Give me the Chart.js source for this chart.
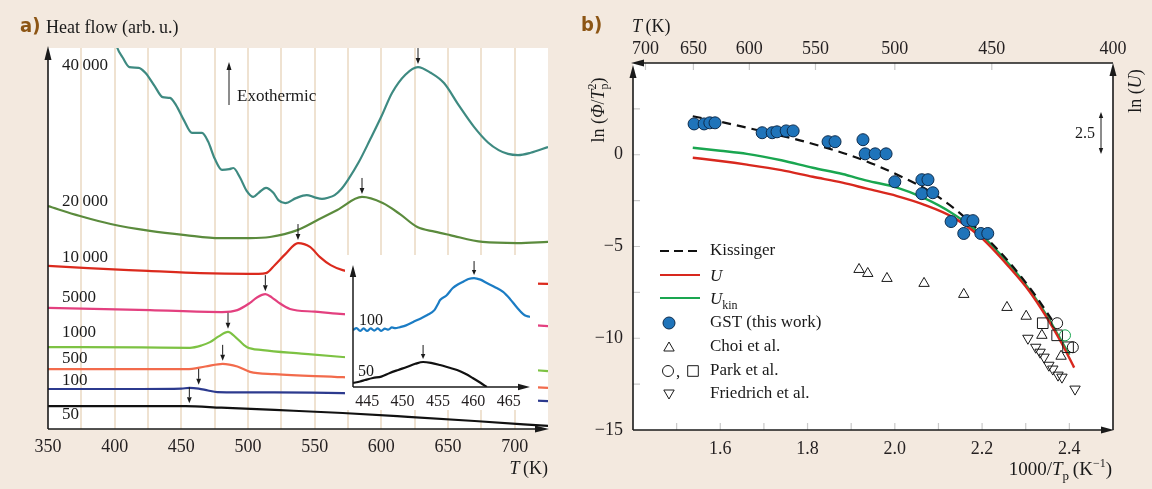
<!DOCTYPE html>
<html>
<head>
<meta charset="utf-8">
<title>GST crystallization kinetics</title>
<script src="https://cdn.jsdelivr.net/npm/chart.js@4.4.1/dist/chart.umd.min.js"></script>
<style>
  html, body { margin: 0; padding: 0; background: #f3e9df; }
  #page { position: relative; width: 1152px; height: 489px; overflow: hidden; }
  canvas { position: absolute; }
  #chartA { left: 0; top: 0; }
  #inset { left: 345px; top: 255px; background: #fff; }
  #chartB { left: 575px; top: 0; }
</style>
</head>
<body>
<div id="page">
  <canvas id="chartA" width="570" height="489"></canvas>
  <canvas id="inset" width="193" height="155"></canvas>
  <canvas id="chartB" width="577" height="489"></canvas>
</div>
<script>
const SERIF = '"Liberation Serif", "Times New Roman", serif';
Chart.defaults.font.family = SERIF;
Chart.defaults.color = '#231f20';

// ---- panel a: DSC traces, T (K) vs heat flow (arb. u.), one per heating rate (K/min)
const RATES = ['40\u2009000', '20\u2009000', '10\u2009000', '5000', '1000', '500', '100', '50'];
const T_40000 = [399, 402, 406, 411, 418, 423, 430, 436, 441.5, 446, 452, 458, 465.5, 470, 475, 480.5, 486, 489, 494, 499, 504, 508, 513.5, 519, 523, 528, 536, 544, 550, 555.5, 560, 565, 570, 575, 583, 591.5, 600, 608, 618, 627.5, 637, 647, 658, 669.5, 680, 688, 695, 702.5, 712, 725];
const HF_40000 = [104, 100, 97.5, 95.0, 94.8, 93.5, 90, 87.1, 86.9, 85, 81, 77.7, 77.7, 75.5, 71, 68.0, 68.2, 68.5, 66, 62.5, 60.9, 62, 63.3, 62, 60, 59.3, 60.6, 61.4, 60.8, 60.4, 60.7, 61.4, 63, 65.4, 70, 75.9, 82, 88.2, 93, 95.0, 93.5, 90.8, 85, 79.3, 75.2, 73.2, 72.2, 71.9, 72.5, 74.0];
const T_20000 = [350, 374, 397, 426.5, 453, 479, 501.5, 516.5, 537, 552.5, 567, 585.5, 601, 614, 627, 640, 651.5, 676, 702, 725];
const HF_20000 = [58.5, 55.9, 53.8, 52.0, 50.9, 50.1, 50.1, 50.4, 52.2, 54.9, 57.5, 60.9, 59.3, 56.4, 53.0, 51.8, 50.9, 49.1, 48.8, 49.1];
const T_10000 = [350, 380, 425, 464, 500, 508, 513.5, 520, 528, 537.5, 546.5, 554, 562, 571, 590, 614, 640, 666, 695, 725];
const HF_10000 = [42.8, 42.2, 41.5, 40.9, 40.7, 40.7, 40.9, 43.0, 45.9, 48.8, 47.8, 45.1, 43.0, 41.7, 40.5, 39.6, 39.1, 38.6, 38.3, 38.1];
const T_5000 = [350, 426.5, 480.5, 492, 501.5, 507, 513, 518, 522.5, 531.5, 550, 569, 610, 651.5, 690, 725];
const HF_5000 = [31.8, 31.2, 30.7, 31.2, 33.1, 34.6, 35.4, 34.5, 33.3, 31.5, 30.8, 30.2, 29.4, 28.6, 27.8, 27.0];
const T_1000 = [350, 420, 456.5, 465, 471.5, 478, 485, 491, 499, 511, 540, 571, 610, 651.5, 690, 725];
const HF_1000 = [21.5, 21.4, 21.3, 21.9, 22.8, 24.3, 25.5, 24.0, 21.5, 20.7, 19.8, 18.9, 18.0, 17.1, 16.1, 15.2];
const T_500 = [350, 420, 454, 468, 481, 492, 501.5, 520, 571, 610, 651.5, 690, 725];
const HF_500 = [15.7, 15.7, 15.7, 16.4, 17.1, 16.4, 15.0, 14.4, 13.6, 12.8, 12.1, 11.4, 10.8];
const T_100 = [350, 420, 450, 456, 463, 470, 477, 520, 571, 650, 725];
const HF_100 = [10.5, 10.5, 10.6, 10.8, 10.6, 10.1, 9.7, 9.6, 9.4, 8.4, 7.3];
const T_50 = [350, 420, 453, 480, 520, 571, 620, 670, 725];
const HF_50 = [6.0, 6.0, 6.0, 5.6, 5.0, 4.2, 3.2, 2.1, 0.8];
const PEAK_T = [627.5, 585.5, 537.5, 513, 485, 481, 463, 456];
const PEAK_HF = [95.0, 60.9, 48.8, 35.4, 25.5, 17.1, 10.8, 6.0];
const LABEL_HF = [95.5, 59.6, 45.1, 34.4, 25.2, 18.4, 12.6, 3.7];

// inset: slow heating rates, zoomed
const T_IN_100 = [443, 443.5, 444, 444.5, 445, 445.5, 446, 446.5, 447, 447.5, 448, 448.5, 449, 449.6, 450.5, 451.5, 452.5, 453.5, 454.5, 455, 455.3, 456.2, 457.1, 457.8, 458.5, 459.3, 460.1, 461, 461.9, 463, 464.2, 465.2, 466.1, 467, 467.5, 468.2];
const HF_IN_100 = [46.7, 48.2, 46.0, 48.0, 46.0, 48.0, 46.2, 48.0, 46.0, 47.8, 47.0, 48.8, 48.2, 49.0, 50.5, 53.3, 56, 59.0, 63, 68, 71.3, 75, 81.1, 84, 86.1, 88.5, 89.3, 88, 85.2, 82, 77.9, 72, 65.6, 60, 58.2, 57.4];
const T_IN_50 = [443, 444, 444.7, 445.8, 447, 448.2, 449.4, 450.6, 451.8, 452.9, 454, 455.3, 456.5, 457.7, 458.8, 459.9, 461, 461.9];
const HF_IN_50 = [3.3, 4.5, 5.7, 7.4, 8.5, 11.5, 14, 16.4, 19, 20.5, 19.8, 18.0, 16, 13.9, 11, 7.4, 3.5, 0];
const IN_TICKS = [445, 450, 455, 460, 465];
const IN_PEAK_T = [460.1, 452.9];
const IN_PEAK_HF = [89.3, 20.5];

// ---- panel b: Kissinger plot, 1000/Tp (1/K) vs ln(Phi/Tp^2)
const TOP_T = [700, 650, 600, 550, 500, 450, 400];
const GST_X = [1.540, 1.563, 1.576, 1.588, 1.696, 1.719, 1.730, 1.751, 1.767, 1.847, 1.863, 1.927, 1.932, 1.955, 1.980, 2.000, 2.062, 2.076, 2.062, 2.087, 2.129, 2.165, 2.179, 2.158, 2.197, 2.213];
const GST_Y = [1.68, 1.68, 1.74, 1.74, 1.20, 1.20, 1.25, 1.30, 1.30, 0.71, 0.71, 0.82, 0.05, 0.05, 0.05, -1.47, -1.36, -1.36, -2.12, -2.07, -3.64, -3.59, -3.59, -4.29, -4.29, -4.29];
const CHOI_X = [1.918, 1.938, 1.982, 2.067, 2.158, 2.257, 2.301, 2.337, 2.381];
const CHOI_Y = [-6.25, -6.47, -6.74, -7.01, -7.61, -8.32, -8.80, -9.84, -10.98];
const PARK_C_X = [2.372, 2.390, 2.408];
const PARK_C_Y = [-9.18, -9.84, -10.49];
const PARK_S_X = [2.339, 2.372, 2.397];
const PARK_S_Y = [-9.18, -9.84, -10.49];
const FRIED_X = [2.305, 2.323, 2.333, 2.342, 2.353, 2.362, 2.374, 2.383, 2.413];
const FRIED_Y = [-10.0, -10.49, -10.76, -11.03, -11.47, -11.68, -12.01, -12.12, -12.77];
const KISS_X = [1.537, 1.60, 1.66, 1.72, 1.78, 1.84, 1.90, 1.96, 2.02, 2.08, 2.14, 2.20, 2.26, 2.32, 2.36];
const KISS_Y = [2.10, 1.80, 1.48, 1.15, 0.80, 0.40, -0.05, -0.60, -1.25, -2.00, -3.00, -4.30, -5.80, -7.60, -9.00];
const U_X = [1.537, 1.60, 1.661, 1.74, 1.812, 1.88, 1.936, 2.005, 2.065, 2.133, 2.195, 2.265, 2.307, 2.349, 2.383, 2.411];
const U_Y = [-0.16, -0.34, -0.54, -0.84, -1.20, -1.52, -1.85, -2.25, -2.70, -3.40, -4.45, -6.2, -7.4, -8.9, -10.3, -11.6];
const UKIN_X = [1.537, 1.60, 1.661, 1.74, 1.812, 1.88, 1.936, 2.005, 2.065, 2.133, 2.195, 2.265, 2.307, 2.349, 2.383, 2.40];
const UKIN_Y = [0.38, 0.22, 0.05, -0.30, -0.71, -1.05, -1.41, -1.79, -2.34, -3.21, -4.30, -6.05, -7.3, -8.8, -10.2, -10.9];

const pts = (xs, ys) => xs.map((v, i) => ({ x: v, y: ys[i] }));

function arrow(ctx, x1, y1, x2, y2, head, half) {
  const ang = Math.atan2(y2 - y1, x2 - x1);
  const bx = x2 - head * Math.cos(ang), by = y2 - head * Math.sin(ang);
  ctx.beginPath(); ctx.moveTo(x1, y1); ctx.lineTo(bx, by); ctx.stroke();
  ctx.beginPath();
  ctx.moveTo(x2, y2);
  ctx.lineTo(bx + half * Math.sin(ang), by - half * Math.cos(ang));
  ctx.lineTo(bx - half * Math.sin(ang), by + half * Math.cos(ang));
  ctx.closePath(); ctx.fill();
}

// text made of pieces (italic, sub/superscripts); stack = draw next piece at same x
function rich(ctx, parts, x, y, align) {
  const setF = p => { ctx.font = (p.it ? 'italic ' : '') + p.size + 'px ' + SERIF; };
  let total = 0;
  parts.forEach(p => { setF(p); if (!p.stack) total += ctx.measureText(p.t).width; });
  let cx = align === 'right' ? x - total : align === 'center' ? x - total / 2 : x;
  ctx.textAlign = 'left'; ctx.textBaseline = 'alphabetic';
  parts.forEach(p => {
    setF(p);
    ctx.fillText(p.t, cx, y + (p.dy || 0));
    if (!p.stack) cx += ctx.measureText(p.t).width;
  });
}

const whiteArea = {
  id: 'whiteArea',
  beforeDraw(chart) {
    const { ctx, chartArea: a } = chart;
    ctx.save(); ctx.fillStyle = '#fff';
    ctx.fillRect(a.left, a.top, a.right - a.left, a.bottom - a.top);
    ctx.restore();
  }
};

// panel a decorations
const panelA = {
  id: 'panelA',
  afterDraw(chart) {
    const { ctx, chartArea: a, scales: { x, y } } = chart;
    ctx.save();
    ctx.strokeStyle = ctx.fillStyle = '#1a1a1a';
    ctx.lineWidth = 1.6;
    arrow(ctx, a.left, a.bottom, a.left, a.top - 2, 14, 3.5);
    arrow(ctx, a.left, a.bottom, a.right + 1, a.bottom, 14, 3.5);
    ctx.lineWidth = 1;
    PEAK_T.forEach((t, i) => {
      const px = x.getPixelForValue(t), py = y.getPixelForValue(PEAK_HF[i]) - 3;
      arrow(ctx, px, py - 16, px, py, 6, 2.4);
    });
    ctx.font = '17px ' + SERIF; ctx.textBaseline = 'middle'; ctx.textAlign = 'left';
    RATES.forEach((r, i) => ctx.fillText(r, a.left + 14, y.getPixelForValue(LABEL_HF[i])));
    // exothermic direction
    arrow(ctx, 229, 105, 229, 62, 8, 2.5);
    ctx.fillText('Exothermic', 237, 97);
    // title
    ctx.font = 'bold 20px "DejaVu Sans Condensed", "Liberation Sans", sans-serif';
    ctx.fillStyle = '#8c5514';
    ctx.fillText('a)', 20, 27);
    ctx.fillStyle = '#1a1a1a';
    ctx.font = '18px ' + SERIF;
    ctx.fillText('Heat flow (arb.\u2009u.)', 46, 28);
    rich(ctx, [{ t: 'T', it: true, size: 18 }, { t: '\u2009(K)', size: 18 }], a.right, 474, 'right');
    ctx.restore();
  }
};

new Chart(document.getElementById('chartA'), {
  type: 'scatter',
  data: {
    datasets: [
      [T_40000, HF_40000, '#3e8a81'], [T_20000, HF_20000, '#5b8b3d'], [T_10000, HF_10000, '#db2a1d'],
      [T_5000, HF_5000, '#e3407f'], [T_1000, HF_1000, '#7dc243'], [T_500, HF_500, '#f26b4c'],
      [T_100, HF_100, '#2c3a8e'], [T_50, HF_50, '#111111']
    ].map(([ts, hs, c]) => ({
      data: pts(ts, hs), borderColor: c, borderWidth: 2.2, showLine: true,
      pointRadius: 0, cubicInterpolationMode: 'monotone'
    }))
  },
  options: {
    responsive: false, animation: false, events: [],
    layout: { padding: { left: 48, right: 22, top: 48, bottom: 0 } },
    plugins: { legend: { display: false }, tooltip: { enabled: false } },
    scales: {
      x: {
        min: 350, max: 725,
        afterFit: s => { s.height = 60; },
        border: { display: false },
        grid: {
          drawTicks: false, lineWidth: 2,
          color: c => (c.tick && (c.tick.value === 350 || c.tick.value === 725)) ? 'rgba(0,0,0,0)' : '#efe2d1'
        },
        ticks: {
          stepSize: 25, autoSkip: false, maxRotation: 0, padding: 7, font: { size: 18 },
          callback: v => (v % 50 === 0 && v <= 700) ? String(v) : ''
        }
      },
      y: { min: 0, max: 100, display: false }
    }
  },
  plugins: [whiteArea, panelA]
});

// inset
const insetDeco = {
  id: 'insetDeco',
  afterDraw(chart) {
    const { ctx, chartArea: a, scales: { x, y } } = chart;
    ctx.save();
    ctx.strokeStyle = ctx.fillStyle = '#1a1a1a';
    ctx.lineWidth = 1.5;
    arrow(ctx, a.left, a.bottom, a.left, a.top, 12, 3.2);
    arrow(ctx, a.left, a.bottom, a.right, a.bottom, 12, 3.2);
    ctx.lineWidth = 1;
    IN_PEAK_T.forEach((t, i) => {
      const px = x.getPixelForValue(t), py = y.getPixelForValue(IN_PEAK_HF[i]) - 3;
      arrow(ctx, px, py - 14, px, py, 5, 2.2);
    });
    ctx.font = '16px ' + SERIF; ctx.textBaseline = 'middle'; ctx.textAlign = 'left';
    ctx.fillText('100', a.left + 6, y.getPixelForValue(HF_IN_100[0]) - 9);
    ctx.fillText('50', a.left + 5, y.getPixelForValue(HF_IN_50[0]) - 11);
    ctx.restore();
  }
};

new Chart(document.getElementById('inset'), {
  type: 'scatter',
  data: {
    datasets: [
      { data: pts(T_IN_100, HF_IN_100), borderColor: '#1b7cc4', borderWidth: 2.2, showLine: true, pointRadius: 0, cubicInterpolationMode: 'monotone' },
      { data: pts(T_IN_50, HF_IN_50), borderColor: '#111111', borderWidth: 2.2, showLine: true, pointRadius: 0, cubicInterpolationMode: 'monotone' }
    ]
  },
  options: {
    responsive: false, animation: false, events: [],
    layout: { padding: { left: 8, right: 8, top: 10, bottom: 0 } },
    plugins: { legend: { display: false }, tooltip: { enabled: false } },
    scales: {
      x: {
        min: 443, max: 468,
        afterFit: s => { s.height = 23; },
        afterBuildTicks: s => { s.ticks = IN_TICKS.map(v => ({ value: v })); },
        border: { display: false },
        grid: { display: false, drawTicks: false },
        ticks: { autoSkip: false, maxRotation: 0, padding: 5, font: { size: 16 } }
      },
      y: { min: 0, max: 100, display: false }
    }
  },
  plugins: [insetDeco]
});

// panel b decorations
function marker(ctx, style, r, px, py, fill, stroke, rot) {
  ctx.save();
  ctx.fillStyle = fill; ctx.strokeStyle = stroke; ctx.lineWidth = 1;
  Chart.helpers.drawPoint(ctx, { pointStyle: style, radius: r, rotation: rot || 0, borderWidth: 1 }, px, py);
  ctx.restore();
}

const panelB = {
  id: 'panelB',
  afterDraw(chart) {
    const { ctx, chartArea: a, scales: { x, y } } = chart;
    ctx.save();
    // small inner ticks
    ctx.strokeStyle = '#c9c9c9'; ctx.lineWidth = 1.2;
    ctx.beginPath();
    for (let k = 15; k <= 24; k++) {
      const px = x.getPixelForValue(k / 10);
      ctx.moveTo(px, a.bottom); ctx.lineTo(px, a.bottom - 7);
    }
    for (let v = -12.5; v <= 2.5; v += 2.5) {
      const py = y.getPixelForValue(v);
      ctx.moveTo(a.left, py); ctx.lineTo(a.left + 7, py);
    }
    TOP_T.slice(0, -1).forEach(t => {
      const px = x.getPixelForValue(1000 / t);
      ctx.moveTo(px, a.top); ctx.lineTo(px, a.top + 7);
    });
    ctx.stroke();
    // axes
    ctx.strokeStyle = ctx.fillStyle = '#1a1a1a'; ctx.lineWidth = 1.6;
    arrow(ctx, a.left, a.bottom, a.left, a.top + 2, 13, 3.5);
    arrow(ctx, a.right, a.bottom, a.right, a.top, 13, 3.5);
    arrow(ctx, a.right, a.top, a.left - 2, a.top, 13, 3.5);
    arrow(ctx, a.left, a.bottom, a.right + 1, a.bottom, 13, 3.5);
    // 2.5 scale bar for ln(U)
    ctx.lineWidth = 1;
    const sx = a.right - 12, s1 = 112, s2 = 154;
    arrow(ctx, sx, (s1 + s2) / 2, sx, s1, 6, 2.2);
    arrow(ctx, sx, (s1 + s2) / 2, sx, s2, 6, 2.2);
    ctx.font = '16px ' + SERIF; ctx.textAlign = 'right'; ctx.textBaseline = 'middle';
    ctx.fillText('2.5', sx - 6, 134);
    // panel label and axis titles
    ctx.font = 'bold 20px "DejaVu Sans Condensed", "Liberation Sans", sans-serif';
    ctx.fillStyle = '#8c5514'; ctx.textAlign = 'left';
    ctx.fillText('b)', 6, 26);
    ctx.fillStyle = '#1a1a1a';
    rich(ctx, [{ t: 'T', it: true, size: 18 }, { t: '\u2009(K)', size: 18 }], 57, 32, 'left');
    rich(ctx, [{ t: '1000/', size: 19 }, { t: 'T', it: true, size: 19 }, { t: 'p', size: 13, dy: 5 },
               { t: '\u2009(K', size: 19 }, { t: '\u22121', size: 12, dy: -8 }, { t: ')', size: 19 }], 537, 475, 'right');
    ctx.save();
    ctx.translate(23, 110); ctx.rotate(-Math.PI / 2);
    rich(ctx, [{ t: 'ln (', size: 18 }, { t: '\u03A6', it: true, size: 18 }, { t: '/', size: 18 },
               { t: 'T', it: true, size: 18 }, { t: '2', size: 12, dy: -8, stack: true }, { t: 'p', size: 12, dy: 4 },
               { t: ')', size: 18 }], 0, 6, 'center');
    ctx.restore();
    ctx.save();
    ctx.translate(560, 91); ctx.rotate(-Math.PI / 2);
    rich(ctx, [{ t: 'ln (', size: 18 }, { t: 'U', it: true, size: 18 }, { t: ')', size: 18 }], 0, 6, 'center');
    ctx.restore();
    // legend
    const lx = 85, mx = 94, tx = 135;
    const rows = [251, 275, 298, 323, 347, 371, 394];
    ctx.lineWidth = 2.2;
    ctx.strokeStyle = '#111'; ctx.setLineDash([9, 5]);
    ctx.beginPath(); ctx.moveTo(lx, rows[0]); ctx.lineTo(lx + 40, rows[0]); ctx.stroke();
    ctx.setLineDash([]);
    ctx.strokeStyle = '#d8281e';
    ctx.beginPath(); ctx.moveTo(lx, rows[1]); ctx.lineTo(lx + 40, rows[1]); ctx.stroke();
    ctx.strokeStyle = '#1aa650';
    ctx.beginPath(); ctx.moveTo(lx, rows[2]); ctx.lineTo(lx + 40, rows[2]); ctx.stroke();
    marker(ctx, 'circle', 6, mx, rows[3], '#1f74ba', '#0d2c4d');
    marker(ctx, 'triangle', 6, mx, rows[4] + 1, 'rgba(0,0,0,0)', '#1a1a1a');
    marker(ctx, 'circle', 5.5, mx - 1, rows[5], 'rgba(0,0,0,0)', '#1a1a1a');
    marker(ctx, 'rect', 7.5, mx + 24, rows[5], 'rgba(0,0,0,0)', '#1a1a1a');
    marker(ctx, 'triangle', 6, mx, rows[6] - 1, 'rgba(0,0,0,0)', '#1a1a1a', 180);
    ctx.fillStyle = '#1a1a1a'; ctx.font = '17px ' + SERIF;
    ctx.textAlign = 'left'; ctx.textBaseline = 'middle';
    ctx.fillText(',', mx + 7, rows[5] + 2);
    ctx.fillText('Kissinger', tx, rows[0]);
    rich(ctx, [{ t: 'U', it: true, size: 17 }], tx, rows[1] + 6, 'left');
    rich(ctx, [{ t: 'U', it: true, size: 17 }, { t: 'kin', size: 12, dy: 5 }], tx, rows[2] + 6, 'left');
    ctx.textBaseline = 'middle';
    ctx.font = '17px ' + SERIF;
    ctx.fillText('GST (this work)', tx, rows[3]);
    ctx.fillText('Choi et al.', tx, rows[4]);
    ctx.fillText('Park et al.', tx, rows[5]);
    ctx.fillText('Friedrich et al.', tx, rows[6]);
    ctx.restore();
  }
};

const openPt = (xs, ys, style, r, extra) => Object.assign({
  data: pts(xs, ys), pointStyle: style, pointRadius: r, backgroundColor: 'rgba(0,0,0,0)',
  borderColor: '#1a1a1a', borderWidth: 1
}, extra || {});

new Chart(document.getElementById('chartB'), {
  type: 'scatter',
  data: {
    datasets: [
      { data: pts(GST_X, GST_Y), pointStyle: 'circle', pointRadius: 6, backgroundColor: '#1f74ba', borderColor: '#0d2c4d', borderWidth: 1 },
      { data: pts(KISS_X, KISS_Y), showLine: true, pointRadius: 0, borderColor: '#111', borderWidth: 2.2, borderDash: [9, 6], cubicInterpolationMode: 'monotone' },
      openPt(PARK_C_X, PARK_C_Y, 'circle', 5.5, { pointBorderColor: ['#1a1a1a', '#1aa650', '#1a1a1a'] }),
      openPt(PARK_S_X, PARK_S_Y, 'rect', 7.5),
      openPt(CHOI_X, CHOI_Y, 'triangle', 6),
      openPt(FRIED_X, FRIED_Y, 'triangle', 6, { pointRotation: 180 }),
      { data: pts(U_X, U_Y), showLine: true, pointRadius: 0, borderColor: '#d8281e', borderWidth: 2.4, cubicInterpolationMode: 'monotone' },
      { data: pts(UKIN_X, UKIN_Y), showLine: true, pointRadius: 0, borderColor: '#1aa650', borderWidth: 2.4, cubicInterpolationMode: 'monotone' }
    ]
  },
  options: {
    responsive: false, animation: false, events: [],
    layout: { padding: { left: 0, right: 39, top: 0, bottom: 0 } },
    plugins: { legend: { display: false }, tooltip: { enabled: false } },
    scales: {
      x: {
        type: 'linear', position: 'bottom', min: 1.4, max: 2.5,
        afterFit: s => { s.height = 59; },
        border: { display: false },
        grid: { display: false, drawTicks: false },
        ticks: {
          stepSize: 0.1, autoSkip: false, maxRotation: 0, padding: 8, font: { size: 18 },
          callback: v => { const k = Math.round(v * 10); return (k % 2 === 0 && k >= 16 && k <= 24) ? (k / 10).toFixed(1) : ''; }
        }
      },
      xTop: {
        type: 'linear', position: 'top', min: 1.4, max: 2.5,
        afterFit: s => { s.height = 63; },
        afterBuildTicks: s => { s.ticks = TOP_T.map(t => ({ value: 1000 / t })); },
        border: { display: false },
        grid: { display: false, drawTicks: false },
        ticks: { autoSkip: false, maxRotation: 0, padding: 3, font: { size: 18 }, callback: v => String(Math.round(1000 / v)) }
      },
      y: {
        min: -15, max: 5,
        afterFit: s => { s.width = 58; },
        border: { display: false },
        grid: { display: false, drawTicks: false },
        ticks: { stepSize: 5, padding: 10, font: { size: 18 }, callback: v => v === 5 ? '' : (v < 0 ? '\u2212' + (-v) : String(v)) }
      }
    }
  },
  plugins: [whiteArea, panelB]
});
</script>
</body>
</html>
